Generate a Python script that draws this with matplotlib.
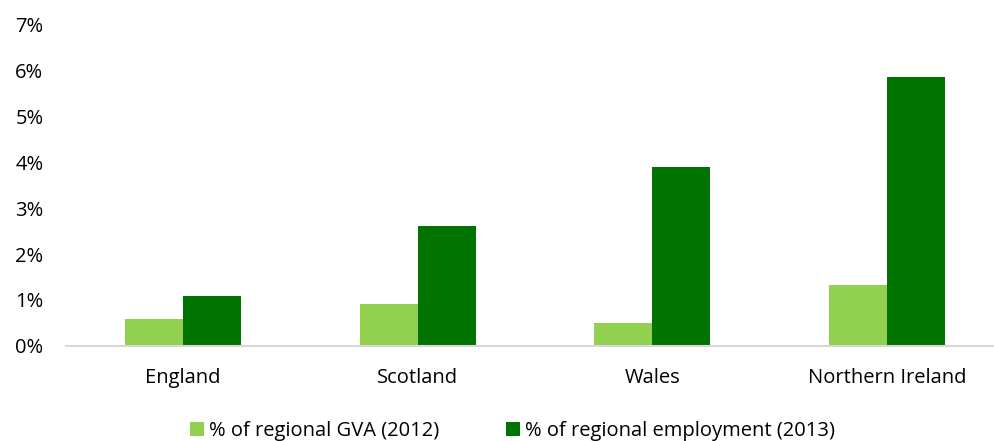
import matplotlib
matplotlib.use("Agg")
import matplotlib.pyplot as plt
import numpy as np
from matplotlib.ticker import FuncFormatter

categories = ["England", "Scotland", "Wales", "Northern Ireland"]
gva_2012 = [0.59, 0.92, 0.49, 1.32]
employment_2013 = [1.08, 2.61, 3.91, 5.87]
series_labels = ["% of regional GVA (2012)", "% of regional employment (2013)"]
y_ticks = [0, 1, 2, 3, 4, 5, 6, 7]

plt.rcParams['font.family'] = ['Open Sans', 'DejaVu Sans']

W, H = 995, 441
fig = plt.figure(figsize=(W / 100, H / 100), dpi=100)
left, right = 65.7, 1004.5
bottom, top = 441 - 345.7, 441 - 25
ax = fig.add_axes([left / W, bottom / H, (right - left) / W, (top - bottom) / H])

x = np.arange(len(categories))
bw = 0.247
ax.bar(x - bw / 2, gva_2012, width=bw, color="#92D050", label=series_labels[0], zorder=3)
ax.bar(x + bw / 2, employment_2013, width=bw, color="#007300", label=series_labels[1], zorder=3)

ax.set_xlim(-0.5, len(categories) - 0.5)
ax.set_ylim(0, 7)
ax.set_yticks(y_ticks)
ax.yaxis.set_major_formatter(FuncFormatter(lambda v, p: f"{int(round(v))}%"))
ax.set_xticks(x)
ax.set_xticklabels(categories)
ax.tick_params(axis='both', length=0, labelsize=14.5, colors="#000000")
ax.tick_params(axis='y', pad=16)
ax.tick_params(axis='x', pad=16)
for s in ["top", "right", "left"]:
    ax.spines[s].set_visible(False)
ax.spines["bottom"].set_color("#D9D9D9")
ax.spines["bottom"].set_linewidth(1.5)
ax.spines["bottom"].set_zorder(4)

leg = fig.legend(loc="center", bbox_to_anchor=(0.515, 10 / H), ncol=2, frameon=False,
                 fontsize=14.5, handlelength=0.7, handleheight=0.7, handletextpad=0.25,
                 columnspacing=3.3)

fig.savefig("out.png", dpi=100)
